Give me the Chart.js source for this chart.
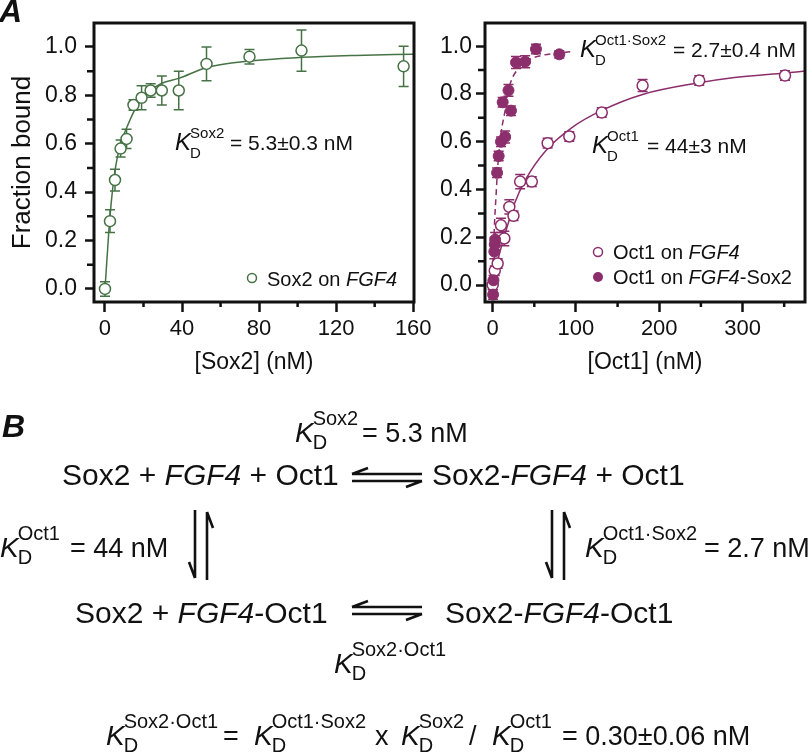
<!DOCTYPE html>
<html>
<head>
<meta charset="utf-8">
<script src="https://cdn.jsdelivr.net/npm/chart.js@4.4.1/dist/chart.umd.min.js"></script>
<style>
html, body { margin: 0; padding: 0; background: #fff; }
#page { position: relative; width: 812px; height: 754px; overflow: hidden; }
#c1 { position: absolute; left: 0; top: 0; }
#c2 { position: absolute; left: 420px; top: 0; }
#ov { position: absolute; left: 0; top: 0; }
#ov text { font-family: "Liberation Sans", Arial, sans-serif; fill: #111; }
</style>
</head>
<body>
<div id="page">
  <canvas id="c1" width="440" height="380"></canvas>
  <canvas id="c2" width="392" height="380"></canvas>
  <svg id="ov" width="812" height="754"></svg>
</div>
<script>
// Sox2 on FGF4
var sox2Conc  = [0, 2.6, 5.2, 8.1, 11.2, 14.8, 19, 23.7, 29.5, 38.3, 52.7, 75, 102, 155];
var sox2Bound = [0.0, 0.28, 0.45, 0.58, 0.62, 0.76, 0.79, 0.82, 0.82, 0.82, 0.93, 0.96, 0.985, 0.92];
var sox2Err   = [0.03, 0.047, 0.045, 0.035, 0.04, 0.022, 0.05, 0.028, 0.06, 0.08, 0.07, 0.03, 0.085, 0.083];
// fitted curve
var sox2FitX = [0, 1, 2.6, 5.2, 8.1, 11.2, 14.8, 19, 23.7, 29.5, 38.3, 52.7, 75, 102, 130, 160];
var sox2FitY = [0, 0.12, 0.30, 0.49, 0.60, 0.665, 0.73, 0.785, 0.82, 0.85, 0.87, 0.915, 0.942, 0.957, 0.965, 0.97];

// Oct1 on FGF4 (open)
var oct1Conc  = [0, 2.5, 6, 10, 14, 20, 25, 33, 47, 66, 92, 131, 180, 248, 351];
var oct1Bound = [0.0, 0.06, 0.09, 0.25, 0.195, 0.327, 0.29, 0.433, 0.433, 0.594, 0.622, 0.722, 0.835, 0.856, 0.877];
var oct1Err   = [0.02, 0.02, 0.02, 0.03, 0.03, 0.03, 0.02, 0.03, 0.02, 0.02, 0.02, 0.02, 0.025, 0.02, 0.02];
var oct1FitX = [0, 8, 16, 26, 40, 64, 96, 131, 180, 248, 288, 351, 376];
var oct1FitY = [0, 0.129, 0.227, 0.339, 0.444, 0.563, 0.661, 0.731, 0.798, 0.847, 0.868, 0.888, 0.896];

// Oct1 on FGF4-Sox2 (filled)
var oct1SoxConc  = [0.5, 1, 2, 2.5, 3, 5.3, 7.2, 10, 12, 15, 19, 22, 28, 39, 52, 80];
var oct1SoxBound = [-0.04, 0.02, 0.14, 0.17, 0.19, 0.47, 0.54, 0.60, 0.765, 0.62, 0.815, 0.73, 0.932, 0.935, 0.988, 0.966];
var oct1SoxErr   = [0.02, 0.02, 0.03, 0.03, 0.03, 0.02, 0.02, 0.02, 0.02, 0.025, 0.025, 0.02, 0.025, 0.025, 0.02, 0.015];
var oct1SoxFitX = [0, 2, 4, 6, 10, 15, 20, 29, 44, 60, 95];
var oct1SoxFitY = [0, 0.24, 0.37, 0.49, 0.633, 0.731, 0.829, 0.899, 0.944, 0.962, 0.977];

// ticks
var sox2XTicks = [0, 40, 80, 120, 160];
var sox2XMinor = [20, 60, 100, 140];
var oct1XTicks = [0, 100, 200, 300];
var oct1XMinor = [50, 150, 250, 350];
var yTicks = [0, 0.2, 0.4, 0.6, 0.8, 1.0];
var yMinor = [0.1, 0.3, 0.5, 0.7, 0.9];

var ink = '#111';
var green = '#467346';
var purple = '#8b2e6b';

Chart.defaults.font.family = '"Liberation Sans", Arial, sans-serif';
Chart.defaults.color = ink;

function pts(xs, ys) {
    return xs.map(function(x, i) { return {x: x, y: ys[i]}; });
}

// error bars under the points, minor ticks and the frame on top
function makeFrame(xMinor, yMin) {
    return {
        id: 'frame',
        beforeDatasetsDraw: function(chart) {
            var ctx = chart.ctx, xs = chart.scales.x, ys = chart.scales.y;
            chart.data.datasets.forEach(function(ds) {
                if (!ds.errors) return;
                ctx.save();
                ctx.strokeStyle = ds.pointBorderColor;
                ctx.lineWidth = 1.5;
                ctx.beginPath();
                ds.data.forEach(function(p, i) {
                    var e = ds.errors[i];
                    var px = xs.getPixelForValue(p.x);
                    var top = ys.getPixelForValue(p.y + e), bot = ys.getPixelForValue(p.y - e);
                    ctx.moveTo(px, top); ctx.lineTo(px, bot);
                    ctx.moveTo(px - 5, top); ctx.lineTo(px + 5, top);
                    ctx.moveTo(px - 5, bot); ctx.lineTo(px + 5, bot);
                });
                ctx.stroke();
                ctx.restore();
            });
        },
        afterDraw: function(chart) {
            var ctx = chart.ctx, a = chart.chartArea, xs = chart.scales.x, ys = chart.scales.y;
            ctx.save();
            ctx.strokeStyle = ink;
            ctx.lineWidth = 2.5;
            ctx.beginPath();
            xMinor.forEach(function(v) {
                var px = xs.getPixelForValue(v);
                ctx.moveTo(px, a.bottom); ctx.lineTo(px, a.bottom + 5);
            });
            yMin.forEach(function(v) {
                var py = ys.getPixelForValue(v);
                ctx.moveTo(a.left - 7, py); ctx.lineTo(a.left, py);
            });
            ctx.stroke();
            ctx.lineWidth = 3;
            ctx.strokeRect(a.left, a.top, a.right - a.left, a.bottom - a.top);
            ctx.restore();
        }
    };
}

function xAxis(min, max, ticks, title) {
    return {
        type: 'linear', min: min, max: max,
        afterBuildTicks: function(s) { s.ticks = ticks.map(function(v) { return {value: v}; }); },
        afterFit: function(s) { s.height = 78; s.paddingLeft = 0; s.paddingRight = 0; },
        ticks: { padding: 4, color: ink, font: {size: 22}, maxRotation: 0, autoSkip: false,
                 callback: function(v) { return String(v); } },
        grid: { drawOnChartArea: false, tickLength: 10, tickColor: ink, tickWidth: 2.5 },
        border: { display: false },
        title: { display: true, text: title, color: ink, font: {size: 23}, padding: {top: 0, bottom: 4} }
    };
}

function yAxis(min, max, width, pad, title) {
    return {
        type: 'linear', min: min, max: max,
        afterBuildTicks: function(s) { s.ticks = yTicks.map(function(v) { return {value: v}; }); },
        afterFit: function(s) { s.width = width; s.paddingTop = 0; s.paddingBottom = 0; },
        ticks: { padding: pad, color: ink, font: {size: 23}, autoSkip: false,
                 callback: function(v) { return v.toFixed(1); } },
        grid: { drawOnChartArea: false, tickLength: 9, tickColor: ink, tickWidth: 2.5 },
        border: { display: false },
        title: { display: !!title, text: title || '', color: ink, font: {size: 26}, padding: {top: 7, bottom: 0} }
    };
}

new Chart(document.getElementById('c1'), {
    type: 'scatter',
    data: {
        datasets: [{
            data: pts(sox2Conc, sox2Bound), errors: sox2Err,
            pointRadius: 5.5, pointHoverRadius: 5.5, pointBorderWidth: 1.5,
            pointBackgroundColor: '#fff', pointBorderColor: green, showLine: false
        }, {
            data: pts(sox2FitX, sox2FitY), showLine: true, pointRadius: 0,
            borderColor: green, borderWidth: 1.5, cubicInterpolationMode: 'monotone'
        }]
    },
    options: {
        responsive: false, animation: false,
        layout: { padding: { left: 0, top: 23, right: 26, bottom: 0 } },
        plugins: { legend: { display: false }, tooltip: { enabled: false } },
        scales: {
            x: xAxis(-5.7, 160.4, sox2XTicks, '[Sox2] (nM)'),
            y: yAxis(-0.054, 1.099, 94, 8, 'Fraction bound')
        }
    },
    plugins: [makeFrame(sox2XMinor, yMinor)]
});

new Chart(document.getElementById('c2'), {
    type: 'scatter',
    data: {
        datasets: [{
            data: pts(oct1SoxConc, oct1SoxBound), errors: oct1SoxErr,
            pointRadius: 5.5, pointHoverRadius: 5.5, pointBorderWidth: 1,
            pointBackgroundColor: purple, pointBorderColor: purple, showLine: false
        }, {
            data: pts(oct1Conc, oct1Bound), errors: oct1Err,
            pointRadius: 5.5, pointHoverRadius: 5.5, pointBorderWidth: 1.5,
            pointBackgroundColor: '#fff', pointBorderColor: purple, showLine: false
        }, {
            data: pts(oct1SoxFitX, oct1SoxFitY), showLine: true, pointRadius: 0,
            borderColor: purple, borderWidth: 1.5, borderDash: [6, 4], cubicInterpolationMode: 'monotone'
        }, {
            data: pts(oct1FitX, oct1FitY), showLine: true, pointRadius: 0,
            borderColor: purple, borderWidth: 1.5, cubicInterpolationMode: 'monotone'
        }]
    },
    options: {
        responsive: false, animation: false,
        layout: { padding: { left: 0, top: 23, right: 5, bottom: 0 } },
        plugins: { legend: { display: false }, tooltip: { enabled: false } },
        scales: {
            x: xAxis(-9.2, 375, oct1XTicks, '[Oct1] (nM)'),
            y: yAxis(-0.071, 1.097, 65, 4, '')
        }
    },
    plugins: [makeFrame(oct1XMinor, yMinor)]
});

// text overlay: annotations, legends and scheme B
function t(x, y, size, body, extra) {
    return '<text x="' + x + '" y="' + y + '" font-size="' + size + '"' + (extra || '') + '>' + body + '</text>';
}
function it(s) { return '<tspan font-style="italic">' + s + '</tspan>'; }
function kd(x, y, sup, k, s, up, dn) {
    var dx = k * 0.63;
    return t(x, y, k, it('K')) + t(x + dx, y - up, s, sup) + t(x + dx, y + dn, s, 'D');
}

var h = '';
h += t(-1, 22, 32, 'A', ' font-weight="bold" font-style="italic"');
h += t(2, 437, 32, 'B', ' font-weight="bold" font-style="italic"');

// panel A annotations
h += kd(175, 150, 'Sox2', 24, 15, 12, 8) + t(230, 150, 21, '= 5.3±0.3 nM');
h += kd(580, 57, 'Oct1·Sox2', 24, 15, 12, 8) + t(673, 57, 21, '= 2.7±0.4 nM');
h += kd(592, 153, 'Oct1', 24, 15, 12, 8) + t(647, 153, 21, '= 44±3 nM');

// legends
h += '<circle cx="252" cy="278" r="4.5" fill="#fff" stroke="' + green + '" stroke-width="1.5"/>';
h += t(267, 286, 20, 'Sox2 on ' + it('FGF4'));
h += '<circle cx="598" cy="252" r="4.5" fill="#fff" stroke="' + purple + '" stroke-width="1.5"/>';
h += t(613, 259, 20, 'Oct1 on ' + it('FGF4'));
h += '<circle cx="598" cy="277" r="5" fill="' + purple + '"/>';
h += t(613, 284, 20, 'Oct1 on ' + it('FGF4') + '-Sox2');

// panel B scheme
h += kd(295, 442, 'Sox2', 28, 20, 17, 7) + t(362, 442, 27, '= 5.3 nM');
h += t(62, 485, 30, 'Sox2 + ' + it('FGF4') + ' + Oct1');
h += t(432, 485, 30, 'Sox2-' + it('FGF4') + ' + Oct1');
h += kd(0, 557, 'Oct1', 28, 20, 17, 7) + t(70, 557, 27, '= 44 nM');
h += kd(585, 557, 'Oct1·Sox2', 28, 20, 17, 7) + t(704, 557, 27, '= 2.7 nM');
h += t(75, 623, 30, 'Sox2 + ' + it('FGF4') + '-Oct1');
h += t(445, 623, 30, 'Sox2-' + it('FGF4') + '-Oct1');
h += kd(334, 673, 'Sox2·Oct1', 28, 20, 17, 7);

h += kd(106, 745, 'Sox2·Oct1', 28, 20, 17, 7) + t(223, 745, 27, '=');
h += kd(254, 745, 'Oct1·Sox2', 28, 20, 17, 7) + t(375, 745, 27, 'x');
h += kd(401, 745, 'Sox2', 28, 20, 17, 7) + t(469, 745, 27, '/');
h += kd(492, 745, 'Oct1', 28, 20, 17, 7) + t(562, 745, 27, '= 0.30±0.06 nM');

// equilibrium harpoons
var arrows = [
    'M352,474 L422,474 M352,474 L368,468',
    'M352,481 L422,481 M422,481 L406,487',
    'M352,607 L422,607 M352,607 L368,601',
    'M352,614 L422,614 M422,614 L406,620',
    'M195,510 L195,578 M195,578 L189,562',
    'M207,512 L207,580 M207,512 L213,528',
    'M552,510 L552,578 M552,578 L546,562',
    'M564,512 L564,580 M564,512 L570,528'
];
h += '<path d="' + arrows.join(' ') + '" stroke="' + ink + '" stroke-width="2.6" fill="none"/>';

document.getElementById('ov').innerHTML = h;
</script>
</body>
</html>
